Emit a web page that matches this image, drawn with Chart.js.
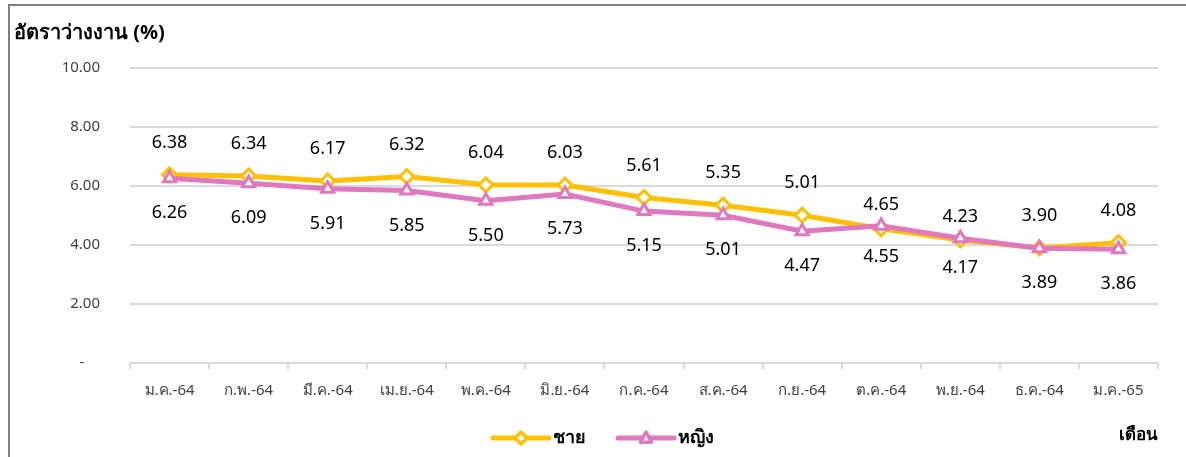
<!DOCTYPE html>
<html>
<head>
<meta charset="utf-8">
<script src="https://cdn.jsdelivr.net/npm/chart.js@4/dist/chart.umd.min.js"></script>
<style>
  html, body { margin: 0; padding: 0; background: #fff; }
  #wrap { position: relative; width: 1186px; height: 457px; overflow: hidden; }
  #frame { position: absolute; left: 8px; top: 4px; width: 1200px; height: 500px; border-left: 2px solid #808080; border-top: 2px solid #808080; }
  canvas { position: absolute; left: 0; top: 0; }
</style>
</head>
<body>
<div id="wrap">
  <div id="frame"></div>
  <canvas id="c" width="1186" height="457"></canvas>
</div>
<script>
const FONT = "'Noto Sans', 'DejaVu Sans', sans-serif";

const months = ['ม.ค.-64', 'ก.พ.-64', 'มี.ค.-64', 'เม.ย.-64', 'พ.ค.-64', 'มิ.ย.-64', 'ก.ค.-64',
                'ส.ค.-64', 'ก.ย.-64', 'ต.ค.-64', 'พ.ย.-64', 'ธ.ค.-64', 'ม.ค.-65'];
const male   = [6.38, 6.34, 6.17, 6.32, 6.04, 6.03, 5.61, 5.35, 5.01, 4.55, 4.17, 3.90, 4.08];
const female = [6.26, 6.09, 5.91, 5.85, 5.50, 5.73, 5.15, 5.01, 4.47, 4.65, 4.23, 3.89, 3.86];
const yTicks = [0, 2, 4, 6, 8, 10];

const yTitle = 'อัตราว่างงาน (%)';
const xTitle = 'เดือน';
const seriesNames = ['ชาย', 'หญิง'];

const YELLOW = '#FFC000';
const PINK = '#DF78BF';

// value labels: the higher of the two series goes above its point, the lower below
const labelPlugin = {
  id: 'valueLabels',
  afterDatasetsDraw(chart) {
    const ctx = chart.ctx;
    ctx.save();
    ctx.font = '18px ' + FONT;
    ctx.fillStyle = '#000';
    ctx.textAlign = 'center';
    ctx.textBaseline = 'middle';
    const m0 = chart.getDatasetMeta(0), m1 = chart.getDatasetMeta(1);
    months.forEach((_, i) => {
      const a = male[i], b = female[i];
      const pa = m0.data[i], pb = m1.data[i];
      const maleUp = a >= b;
      ctx.fillText(a.toFixed(2), pa.x, maleUp ? pa.y - 32 : pa.y + 28);
      ctx.fillText(b.toFixed(2), pb.x, maleUp ? pb.y + 35 : pb.y - 21);
    });
    ctx.restore();
  }
};

function drawShape(ctx, style, x, y, r) {
  if (style === 'rectRot') {
    ctx.moveTo(x, y - r); ctx.lineTo(x + r, y); ctx.lineTo(x, y + r); ctx.lineTo(x - r, y); ctx.closePath();
  } else {
    ctx.moveTo(x, y - r); ctx.lineTo(x + r * 0.95, y + r * 0.7); ctx.lineTo(x - r * 0.95, y + r * 0.7); ctx.closePath();
  }
}

// axis titles and a legend with line + marker samples
const decorPlugin = {
  id: 'decor',
  afterDraw(chart) {
    const ctx = chart.ctx;
    ctx.save();
    ctx.fillStyle = '#000';
    ctx.textBaseline = 'middle';
    ctx.font = 'bold 20px ' + FONT;
    ctx.textAlign = 'left';
    ctx.fillText(yTitle, 14, 33);
    ctx.font = 'bold 17px ' + FONT;
    ctx.textAlign = 'right';
    ctx.fillText(xTitle, 1158, 435);

    const items = [
      { x: 493, ds: chart.data.datasets[0] },
      { x: 618, ds: chart.data.datasets[1] }
    ];
    const y = 438;
    items.forEach(it => {
      const ds = it.ds;
      ctx.strokeStyle = ds.borderColor;
      ctx.lineWidth = 5;
      ctx.lineCap = 'round';
      ctx.beginPath();
      ctx.moveTo(it.x, y);
      ctx.lineTo(it.x + 56, y);
      ctx.stroke();
      ctx.fillStyle = '#fff';
      ctx.lineWidth = 3.5;
      ctx.lineJoin = 'round';
      ctx.beginPath();
      drawShape(ctx, ds.pointStyle, it.x + 28, y, 6);
      ctx.fill();
      ctx.stroke();
      ctx.fillStyle = '#000';
      ctx.font = 'bold 18px ' + FONT;
      ctx.textAlign = 'left';
      ctx.fillText(ds.label, it.x + 60, y);
    });
    ctx.restore();
  }
};

new Chart(document.getElementById('c'), {
  type: 'line',
  data: {
    labels: months,
    datasets: [
      { label: seriesNames[0], data: male, borderColor: YELLOW, backgroundColor: '#fff',
        borderWidth: 5, pointStyle: 'rectRot', pointRadius: 7, pointBorderWidth: 3,
        pointBackgroundColor: '#fff', pointBorderColor: YELLOW, tension: 0, order: 2 },
      { label: seriesNames[1], data: female, borderColor: PINK, backgroundColor: '#fff',
        borderWidth: 5, pointStyle: 'triangle', pointRadius: 7, pointBorderWidth: 3,
        pointBackgroundColor: '#fff', pointBorderColor: PINK, tension: 0, order: 1 }
    ]
  },
  options: {
    responsive: false,
    animation: false,
    events: [],
    layout: { padding: { left: 0, right: 28, top: 68, bottom: 0 } },
    plugins: { legend: { display: false }, tooltip: { enabled: false }, title: { display: false } },
    scales: {
      x: {
        offset: true,
        grid: { display: true, drawOnChartArea: false, drawTicks: true, tickLength: 6, color: '#D9D9D9', lineWidth: 2, offset: true },
        border: { display: true, color: '#D9D9D9', width: 2 },
        ticks: { color: '#404040', font: { size: 15, family: FONT }, padding: 13, maxRotation: 0, autoSkip: false },
        afterFit(s) { s.height = 94; }
      },
      y: {
        min: 0, max: 10,
        afterBuildTicks(s) { s.ticks = yTicks.map(v => ({ value: v })); },
        grid: { color: '#D9D9D9', lineWidth: 2, drawTicks: false },
        border: { display: false },
        ticks: {
          color: '#404040', font: { size: 15, family: FONT }, padding: 30,
          callback: v => v === 0 ? '-    ' : v.toFixed(2)
        },
        afterFit(s) { s.width = 130; }
      }
    }
  },
  plugins: [labelPlugin, decorPlugin]
});
</script>
</body>
</html>
